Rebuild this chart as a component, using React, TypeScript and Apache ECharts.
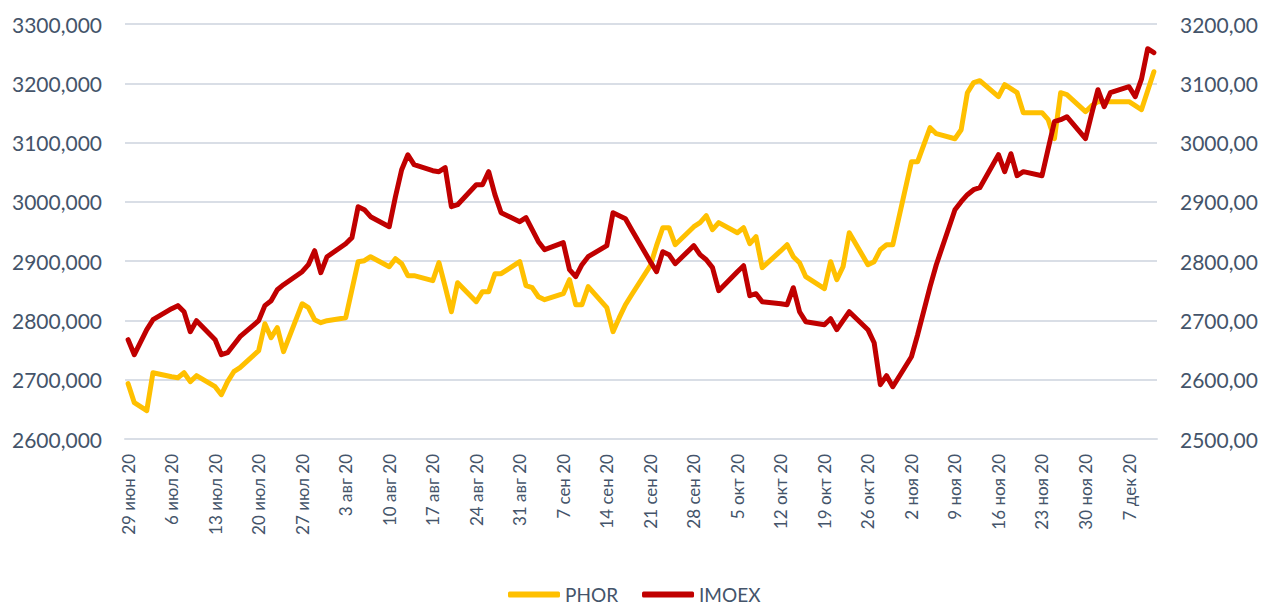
import React, { useEffect, useRef } from "react";
import * as echarts from "echarts";

// Trading days (Moscow Exchange), 29 Jun 2020 – 11 Dec 2020
const tradingDates: string[] = [
  "2020-06-29", "2020-06-30", "2020-07-02", "2020-07-03",
  "2020-07-06", "2020-07-07", "2020-07-08", "2020-07-09", "2020-07-10",
  "2020-07-13", "2020-07-14", "2020-07-15", "2020-07-16", "2020-07-17",
  "2020-07-20", "2020-07-21", "2020-07-22", "2020-07-23", "2020-07-24",
  "2020-07-27", "2020-07-28", "2020-07-29", "2020-07-30", "2020-07-31",
  "2020-08-03", "2020-08-04", "2020-08-05", "2020-08-06", "2020-08-07",
  "2020-08-10", "2020-08-11", "2020-08-12", "2020-08-13", "2020-08-14",
  "2020-08-17", "2020-08-18", "2020-08-19", "2020-08-20", "2020-08-21",
  "2020-08-24", "2020-08-25", "2020-08-26", "2020-08-27", "2020-08-28",
  "2020-08-31", "2020-09-01", "2020-09-02", "2020-09-03", "2020-09-04",
  "2020-09-07", "2020-09-08", "2020-09-09", "2020-09-10", "2020-09-11",
  "2020-09-14", "2020-09-15", "2020-09-16", "2020-09-17", "2020-09-18",
  "2020-09-21", "2020-09-22", "2020-09-23", "2020-09-24", "2020-09-25",
  "2020-09-28", "2020-09-29", "2020-09-30", "2020-10-01", "2020-10-02",
  "2020-10-05", "2020-10-06", "2020-10-07", "2020-10-08", "2020-10-09",
  "2020-10-12", "2020-10-13", "2020-10-14", "2020-10-15", "2020-10-16",
  "2020-10-19", "2020-10-20", "2020-10-21", "2020-10-22", "2020-10-23",
  "2020-10-26", "2020-10-27", "2020-10-28", "2020-10-29", "2020-10-30",
  "2020-11-02", "2020-11-03", "2020-11-05", "2020-11-06",
  "2020-11-09", "2020-11-10", "2020-11-11", "2020-11-12", "2020-11-13",
  "2020-11-16", "2020-11-17", "2020-11-18", "2020-11-19", "2020-11-20",
  "2020-11-23", "2020-11-24", "2020-11-25", "2020-11-26", "2020-11-27",
  "2020-11-30", "2020-12-01", "2020-12-02", "2020-12-03", "2020-12-04",
  "2020-12-07", "2020-12-08", "2020-12-09", "2020-12-10", "2020-12-11",
];

const phor: number[] = [
  2693.3, 2661.2, 2647.7, 2711.8,
  2705.1, 2703.4, 2711.8, 2696.7, 2706.8,
  2688.2, 2674.7, 2696.7, 2713.5, 2720.3,
  2749.0, 2794.5, 2770.9, 2787.8, 2747.3,
  2828.2, 2821.5, 2801.2, 2796.2, 2799.6,
  2804.6, 2851.8, 2899.1, 2900.8, 2907.5,
  2890.6, 2904.1, 2895.7, 2875.5, 2875.5,
  2867.0, 2897.4, 2856.9, 2814.7, 2863.7,
  2831.6, 2848.5, 2848.5, 2878.8, 2878.8,
  2899.1, 2858.6, 2855.2, 2840.0, 2835.0,
  2845.1, 2868.7, 2826.5, 2826.5, 2856.9,
  2821.5, 2781.0, 2804.6, 2826.5, 2843.4,
  2892.3, 2926.1, 2956.4, 2956.4, 2927.7,
  2958.1, 2964.9, 2976.7, 2953.0, 2964.9,
  2948.0, 2956.4, 2929.4, 2941.2, 2889.0,
  2917.6, 2927.7, 2907.5, 2897.4, 2873.8,
  2853.5, 2899.1, 2868.7, 2890.6, 2948.0,
  2894.0, 2899.1, 2919.3, 2927.7, 2927.7,
  3067.7, 3067.7, 3125.1, 3115.0,
  3106.5, 3121.7, 3184.1, 3201.0, 3204.4,
  3177.4, 3197.6, 3190.9, 3184.1, 3150.4,
  3150.4, 3138.6, 3106.5, 3184.1, 3180.8,
  3152.1, 3162.2, 3168.9, 3168.9, 3168.9,
  3168.9, 3162.2, 3155.4, 3187.5, 3219.5,
];

const imoex: number[] = [
  2667.5, 2642.2, 2684.4, 2701.2,
  2719.8, 2724.9, 2714.7, 2681.0, 2699.6,
  2667.5, 2642.2, 2645.6, 2659.1, 2672.6,
  2699.6, 2724.9, 2733.3, 2751.8, 2760.3,
  2782.2, 2794.0, 2817.6, 2780.5, 2807.5,
  2829.4, 2839.6, 2891.8, 2886.8, 2875.0,
  2858.1, 2908.7, 2954.2, 2979.5, 2962.7,
  2952.6, 2950.9, 2957.6, 2891.8, 2895.2,
  2928.9, 2928.9, 2950.9, 2912.1, 2881.7,
  2866.5, 2873.3, 2853.0, 2832.8, 2819.3,
  2831.1, 2785.6, 2773.8, 2794.0, 2807.5,
  2826.1, 2881.7, 2876.7, 2871.6, 2853.0,
  2799.1, 2782.2, 2815.9, 2810.9, 2795.7,
  2826.1, 2810.9, 2802.4, 2789.0, 2750.2,
  2782.2, 2792.3, 2741.7, 2745.1, 2731.6,
  2728.2, 2726.5, 2755.2, 2714.7, 2697.9,
  2692.8, 2702.9, 2684.4, 2699.6, 2714.7,
  2684.4, 2662.4, 2591.6, 2606.8, 2588.2,
  2638.8, 2675.9, 2756.9, 2794.0,
  2886.8, 2900.3, 2912.1, 2920.5, 2923.9,
  2979.5, 2950.9, 2981.2, 2944.1, 2950.9,
  2944.1, 2989.7, 3035.2, 3038.6, 3043.6,
  3006.5, 3048.7, 3089.2, 3060.5, 3084.1,
  3094.2, 3077.4, 3107.0, 3158.3, 3151.6,
];

const monthsRu: string[] = ["янв", "фев", "мар", "апр", "май", "июн", "июл", "авг", "сен", "окт", "ноя", "дек"];
const seriesNames: string[] = ["PHOR", "IMOEX"];
const leftAxisRange = { min: 2600, max: 3300, interval: 100 };
const rightAxisRange = { min: 2500, max: 3200, interval: 100 };

const DAY = 86400000;
function parseUTC(s: string): number {
  const [y, m, d] = s.split("-").map(Number);
  return Date.UTC(y, m - 1, d);
}
function fmtISO(t: number): string {
  const d = new Date(t);
  const mm = String(d.getUTCMonth() + 1).padStart(2, "0");
  const dd = String(d.getUTCDate()).padStart(2, "0");
  return `${d.getUTCFullYear()}-${mm}-${dd}`;
}

// Calendar-day axis domain (like Excel's date axis)
const calendarDays: string[] = [];
for (let t = parseUTC(tradingDates[0]); t <= parseUTC(tradingDates[tradingDates.length - 1]); t += DAY) {
  calendarDays.push(fmtISO(t));
}

function alignToCalendar(values: number[]): (number | null)[] {
  const map = new Map<string, number>();
  tradingDates.forEach((d, i) => map.set(d, values[i]));
  return calendarDays.map((d) => (map.has(d) ? (map.get(d) as number) : null));
}

function formatDateLabel(s: string): string {
  const [y, m, d] = s.split("-").map(Number);
  return `${d} ${monthsRu[m - 1]} ${String(y).slice(2)}`;
}

const TEXT = "#44546a";
const GRID = "#d9dee6";
const FONT = "Lato, 'Noto Sans', sans-serif";

export default function App() {
  const ref = useRef<HTMLDivElement>(null);

  useEffect(() => {
    if (!ref.current) return;
    const chart = echarts.init(ref.current, undefined, { renderer: "svg" });
    chart.setOption({
      animation: false,
      backgroundColor: "#ffffff",
      textStyle: { fontFamily: FONT },
      grid: { left: 125, right: 105, top: 24, bottom: 167, containLabel: false },
      legend: {
        data: seriesNames,
        left: 508,
        top: 585,
        padding: 0,
        icon: "roundRect",
        itemWidth: 52,
        itemHeight: 6,
        itemGap: 24,
        textStyle: { fontSize: 19, lineHeight: 18, height: 18, color: TEXT, fontFamily: FONT },
      },
      xAxis: {
        type: "category",
        data: calendarDays,
        boundaryGap: true,
        axisLine: { show: true, lineStyle: { color: GRID, width: 2 } },
        axisTick: { show: false },
        splitLine: { show: false },
        axisLabel: {
          interval: (index: number) => index % 7 === 0,
          rotate: 90,
          margin: 15,
          fontSize: 17,
          color: TEXT,
          fontFamily: FONT,
          formatter: (v: string) => formatDateLabel(v),
        },
      },
      yAxis: [
        {
          type: "value",
          position: "left",
          min: leftAxisRange.min,
          max: leftAxisRange.max,
          interval: leftAxisRange.interval,
          axisLine: { show: false },
          axisTick: { show: false },
          splitLine: { show: true, lineStyle: { color: GRID, width: 2 } },
          axisLabel: {
            margin: 23,
            fontSize: 21,
            color: TEXT,
            fontFamily: FONT,
            formatter: (v: number) => v.toFixed(3).replace(".", ","),
          },
        },
        {
          type: "value",
          position: "right",
          min: rightAxisRange.min,
          max: rightAxisRange.max,
          interval: rightAxisRange.interval,
          axisLine: { show: false },
          axisTick: { show: false },
          splitLine: { show: false },
          axisLabel: {
            margin: 23,
            fontSize: 21,
            color: TEXT,
            fontFamily: FONT,
            formatter: (v: number) => v.toFixed(2).replace(".", ","),
          },
        },
      ],
      series: [
        {
          name: seriesNames[0],
          type: "line",
          yAxisIndex: 0,
          data: alignToCalendar(phor),
          connectNulls: true,
          symbol: "none",
          itemStyle: { color: "#FFC000" },
          lineStyle: { color: "#FFC000", width: 5, cap: "round", join: "round" },
        },
        {
          name: seriesNames[1],
          type: "line",
          yAxisIndex: 1,
          data: alignToCalendar(imoex),
          connectNulls: true,
          symbol: "none",
          itemStyle: { color: "#C00000" },
          lineStyle: { color: "#C00000", width: 5, cap: "round", join: "round" },
        },
      ],
    });
    return () => chart.dispose();
  }, []);

  return (
    <div
      ref={ref}
      style={{ position: "fixed", left: 0, top: 0, width: 1262, height: 606, background: "#fff" }}
    />
  );
}
